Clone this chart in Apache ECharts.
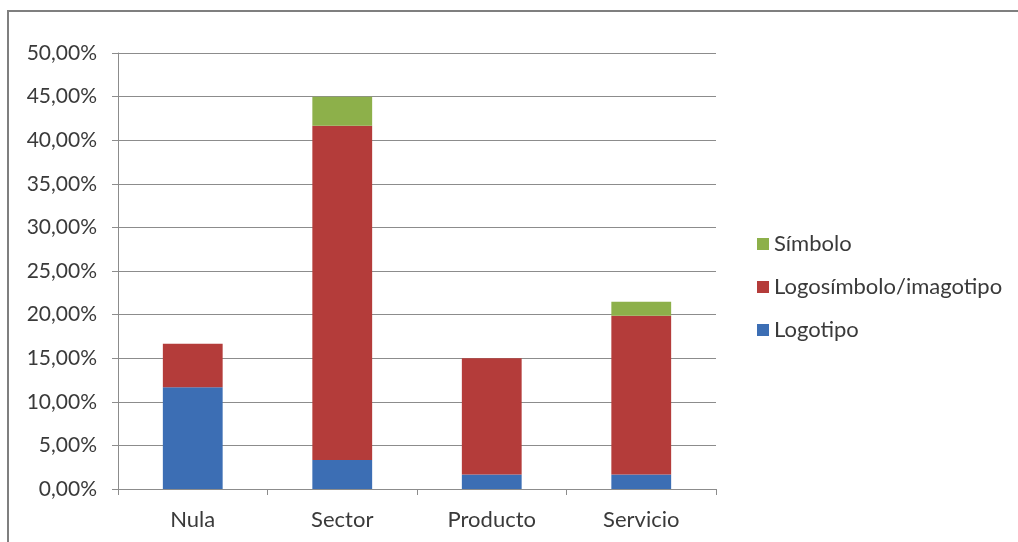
<!DOCTYPE html>
<html>
<head>
<meta charset="utf-8">
<script src="https://cdn.jsdelivr.net/npm/echarts@6/dist/echarts.min.js"></script>
<style>
  html, body { margin: 0; padding: 0; background: #fff; }
  #chart { width: 1018px; height: 542px; }
</style>
</head>
<body>
<div id="chart"></div>
<script>
// categories and stacked values (percent)
const categories = ["Nula", "Sector", "Producto", "Servicio"];
const logotipo = [11.67, 3.33, 1.67, 1.67];
const logosimbolo = [5.0, 38.33, 13.33, 18.2];
const simbolo = [0, 3.33, 0, 1.6];
const yTicks = [0, 5, 10, 15, 20, 25, 30, 35, 40, 45, 50];

const font = "Lato, 'Open Sans', sans-serif";
const textColor = "#3a3a3a";
const gridColor = "#8c8c8c";

const chart = echarts.init(document.getElementById("chart"));

// stacked bar series
const makeSeries = (name, data, color) => ({
  name,
  type: "bar",
  stack: "total",
  data,
  barWidth: "40%",
  itemStyle: { color },
  emphasis: { disabled: true }
});

chart.setOption({
  animation: false,
  textStyle: { fontFamily: font },
  graphic: [{
    type: "rect",
    shape: { x: 8, y: 11, width: 1030, height: 560 },
    style: { fill: "none", stroke: "#7f7f7f", lineWidth: 2 },
    silent: true
  }],
  grid: { left: 118, right: 302, top: 53, bottom: 53 },
  legend: {
    orient: "vertical",
    left: 752,
    top: 227,
    itemWidth: 12,
    itemHeight: 12,
    itemGap: 19,
    icon: "rect",
    data: ["Símbolo", "Logosímbolo/imagotipo", "Logotipo"],
    textStyle: { fontSize: 22, color: textColor, fontFamily: font, lineHeight: 24 }
  },
  xAxis: {
    type: "category",
    data: categories,
    axisLine: { lineStyle: { color: gridColor, width: 1 } },
    axisTick: { show: true, length: 6, lineStyle: { color: gridColor } },
    axisLabel: { fontSize: 22, color: textColor, margin: 20 }
  },
  yAxis: {
    type: "value",
    min: yTicks[0],
    max: yTicks[yTicks.length - 1],
    interval: 5,
    axisLine: { show: true, lineStyle: { color: gridColor } },
    axisTick: { show: true, inside: false, length: 6, lineStyle: { color: gridColor } },
    splitLine: { lineStyle: { color: gridColor, width: 1 } },
    axisLabel: {
      fontSize: 21,
      color: textColor,
      margin: 21,
      formatter: (v) => v.toFixed(2).replace(".", ",") + "%"
    }
  },
  series: [
    makeSeries("Logotipo", logotipo, "#3c6eb4"),
    makeSeries("Logosímbolo/imagotipo", logosimbolo, "#b43c3a"),
    makeSeries("Símbolo", simbolo, "#8db04a")
  ]
});
</script>
</body>
</html>
